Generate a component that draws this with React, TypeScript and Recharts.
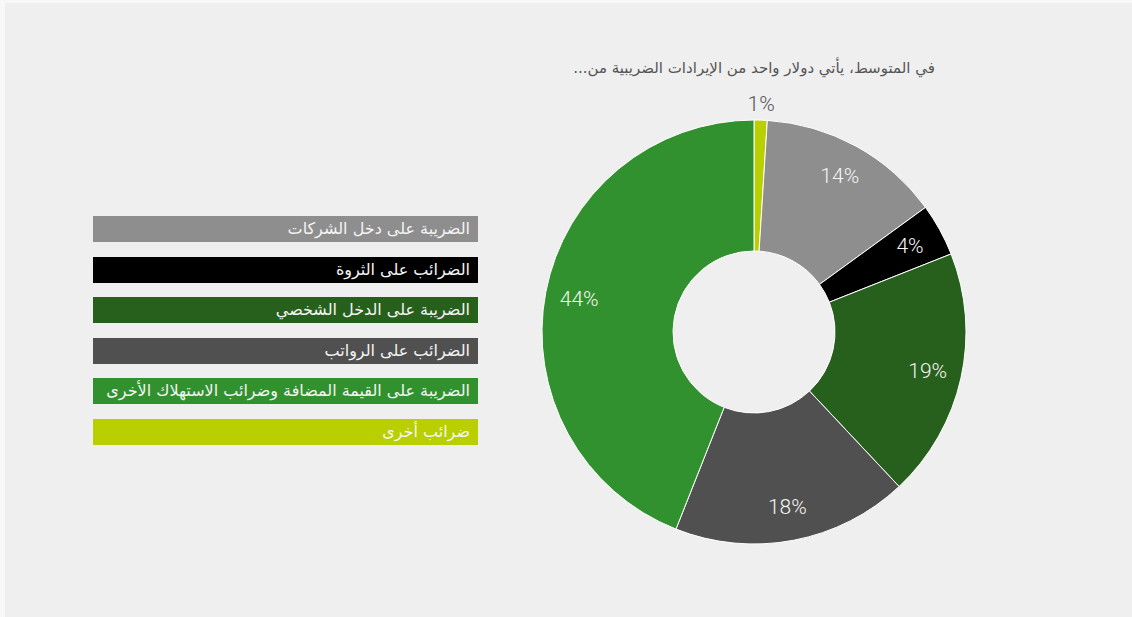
import { PieChart, Pie, Cell, Legend } from "recharts";

// pie order, clockwise from 12 o'clock
const taxNames = [
  "ضرائب أخرى",
  "الضريبة على دخل الشركات",
  "الضرائب على الثروة",
  "الضريبة على الدخل الشخصي",
  "الضرائب على الرواتب",
  "الضريبة على القيمة المضافة وضرائب الاستهلاك الأخرى",
];
const taxShares = [1, 14, 4, 19, 18, 44];
const taxColors = ["#b9cf00", "#8e8e8e", "#000000", "#27601c", "#505050", "#31912f"];

// legend reads top to bottom in this order
const legendNames = [
  "الضريبة على دخل الشركات",
  "الضرائب على الثروة",
  "الضريبة على الدخل الشخصي",
  "الضرائب على الرواتب",
  "الضريبة على القيمة المضافة وضرائب الاستهلاك الأخرى",
  "ضرائب أخرى",
];

const chartTitle = "في المتوسط، يأتي دولار واحد من الإيرادات الضريبية من...";

const data = taxNames.map((name, i) => ({ name, value: taxShares[i], color: taxColors[i] }));

const FONT = "'DejaVu Sans', 'Noto Sans', sans-serif";
const RAD = Math.PI / 180;

const renderLabel = (props: any) => {
  const { cx, cy, midAngle, outerRadius, value } = props;
  const small = value < 2;
  const r = small ? outerRadius + 16 : outerRadius - 34;
  const x = cx + r * Math.cos(-midAngle * RAD);
  const y = cy + r * Math.sin(-midAngle * RAD);
  return (
    <text
      x={x}
      y={y}
      textAnchor="middle"
      dominantBaseline="central"
      fill={small ? "#555555" : "#f4f4f4"}
      fontSize={21}
      fontFamily="Roboto, sans-serif"
      fontWeight={300}
    >
      {value}%
    </text>
  );
};

const renderLegend = (props: any) => {
  const payload = props.payload || [];
  return (
    <div style={{ width: 385 }}>
      {legendNames.map((n) => {
        const item = payload.find((p: any) => p.value === n);
        const color = item ? item.color : "#999";
        return (
          <div
            key={n}
            style={{
              height: 26,
              marginBottom: 14.5,
              background: color,
              color: "#f4f4f4",
              fontFamily: FONT,
              fontSize: 16,
              lineHeight: "26px",
              textAlign: "right",
              direction: "rtl",
              paddingRight: 8,
              boxSizing: "border-box",
              whiteSpace: "nowrap",
            }}
          >
            {n}
          </div>
        );
      })}
    </div>
  );
};

export default function TaxRevenueDonut() {
  return (
    <div style={{ position: "absolute", left: 0, top: 0, width: 1132, height: 617, background: "#f8f8f8" }}>
      <div
        style={{
          position: "absolute",
          left: 5,
          top: 3,
          width: 1127,
          height: 614,
          background: "#efefef",
        }}
      >
        <div
          style={{
            position: "absolute",
            left: 449,
            top: 56,
            width: 600,
            textAlign: "center",
            direction: "rtl",
            fontFamily: FONT,
            fontSize: 15,
            color: "#555555",
          }}
        >
          {chartTitle}
        </div>
        <PieChart width={1127} height={614} margin={{ top: 0, right: 0, bottom: 0, left: 0 }}>
          <Legend
            content={renderLegend}
            layout="vertical"
            wrapperStyle={{ left: 88, top: 213, width: 385 }}
          />
          <Pie
            data={data}
            dataKey="value"
            nameKey="name"
            cx={749}
            cy={329}
            innerRadius={81}
            outerRadius={212}
            startAngle={90}
            endAngle={-270}
            stroke="#ffffff"
            strokeWidth={1}
            label={renderLabel}
            labelLine={false}
            isAnimationActive={false}
          >
            {data.map((d) => (
              <Cell key={d.name} fill={d.color} />
            ))}
          </Pie>
        </PieChart>
      </div>
    </div>
  );
}
